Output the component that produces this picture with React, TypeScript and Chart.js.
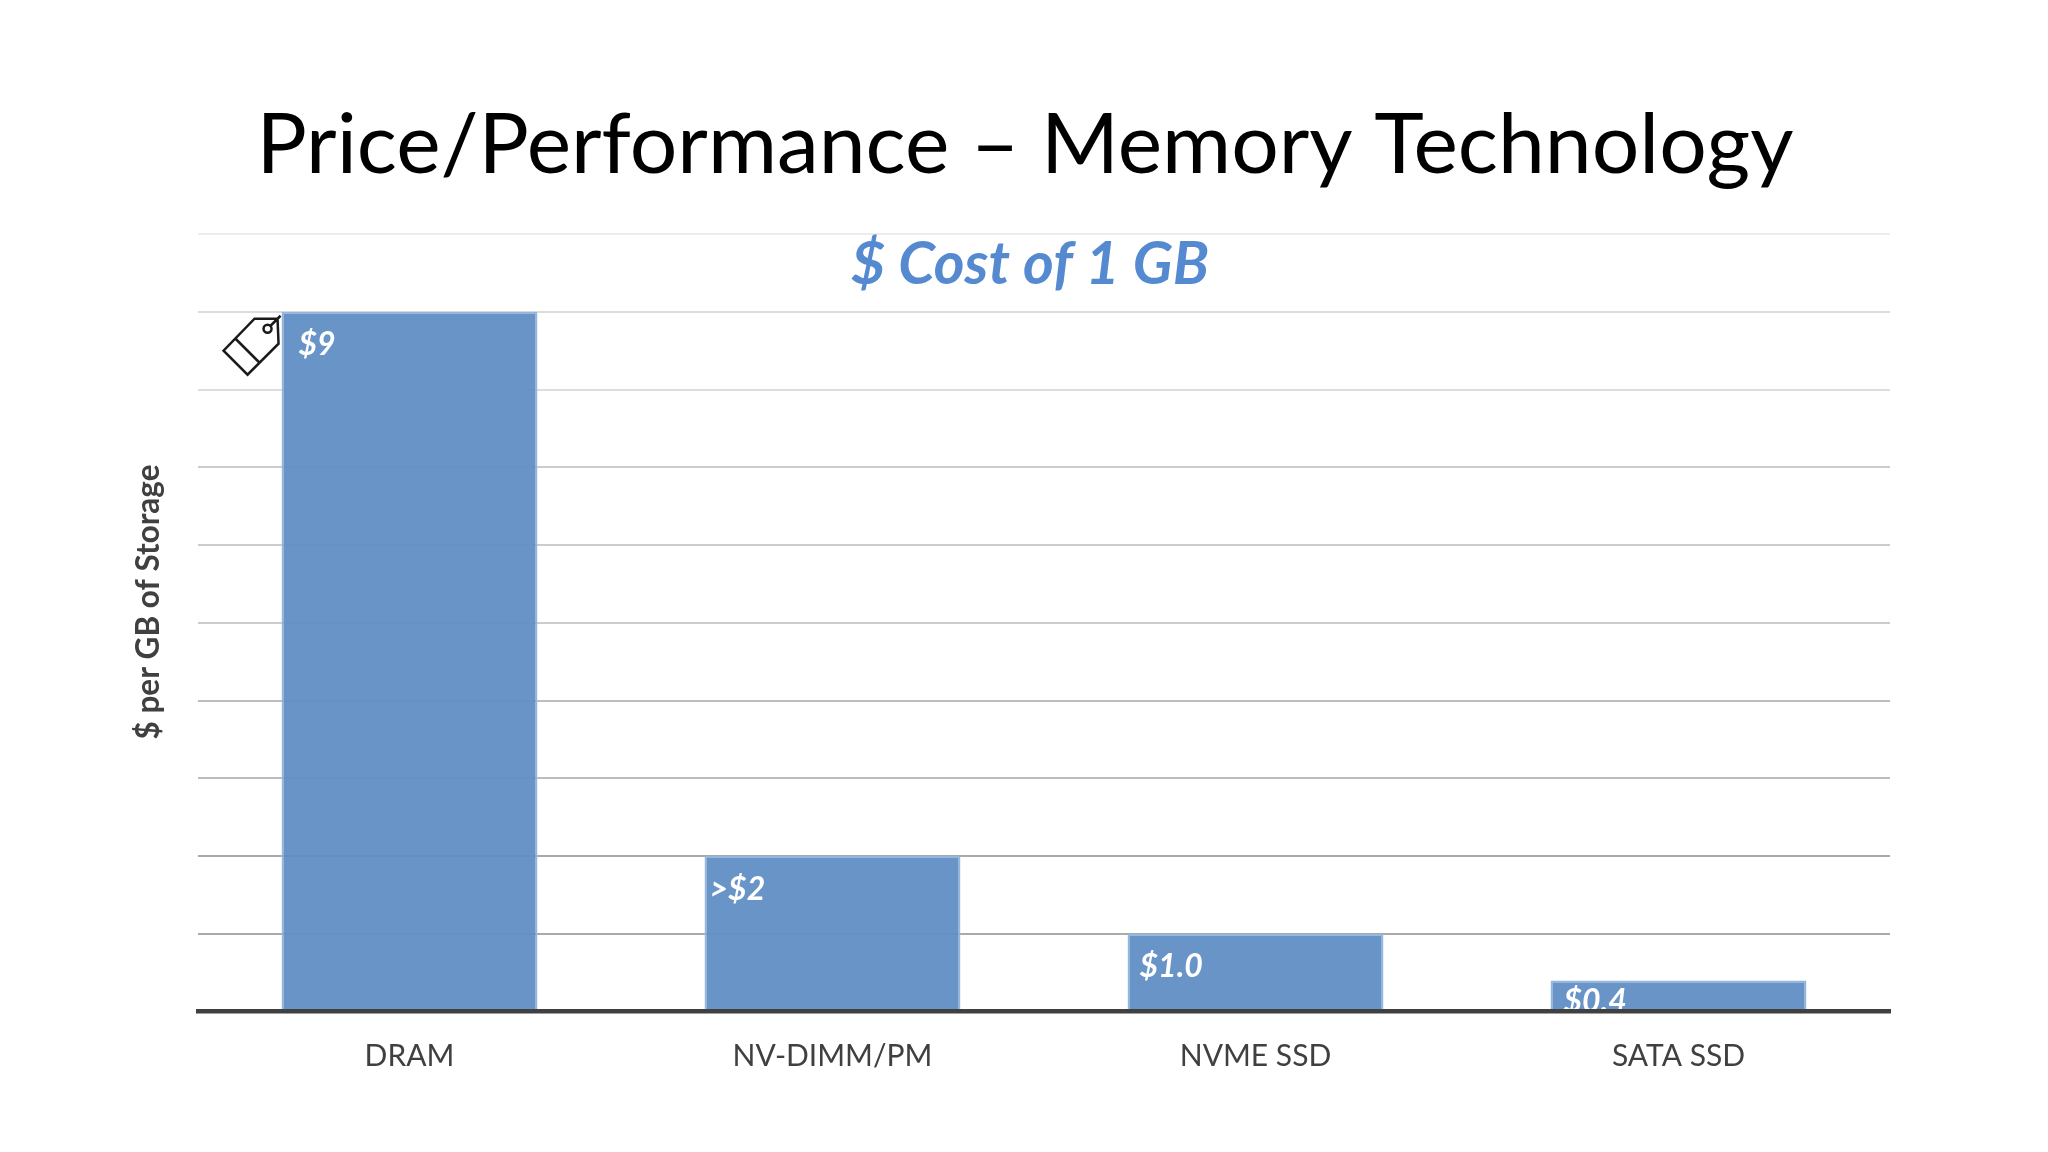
import React, { useRef, useEffect } from 'react'
import { Chart, registerables } from 'chart.js'

Chart.register(...registerables)

const categories = ['DRAM', 'NV-DIMM/PM', 'NVME SSD', 'SATA SSD']
const costPerGb = [9, 2, 1, 0.4]
const valueLabels = ['$9', '>$2', '$1.0', '$0.4']
const slideTitle = 'Price/Performance \u2013 Memory Technology'
const chartTitle = '$ Cost of 1 GB'
const yAxisTitle = '$ per GB of Storage'

const FONT = 'Lato, "Open Sans", sans-serif'

// offset of each value label from its bar's top left corner
const labelInsetX = [17, 5, 12, 13]
const labelInsetY = [33, 34, 33, 21]

const gridColor = (value: number) => {
  if (value >= 10) return '#ececec'
  if (value >= 8) return '#dddddd'
  if (value >= 5) return '#cccccc'
  if (value >= 3) return '#bdbdbd'
  return '#aaaaaa'
}

const slidePlugin = {
  id: 'slide',
  afterDatasetsDraw(chart: Chart) {
    const { ctx } = chart
    const bars = chart.getDatasetMeta(0).data as any[]

    ctx.save()
    ctx.textBaseline = 'middle'
    ctx.textAlign = 'center'
    ctx.fillStyle = '#000000'
    ctx.font = `84px ${FONT}`
    ctx.fillText(slideTitle, 1025, 146)
    ctx.fillStyle = '#568ad0'
    ctx.font = `italic bold 59px ${FONT}`
    ctx.fillText(chartTitle, 1030, 265)

    // the axis title sits above the plot's centre, so it can't use the scale title
    ctx.save()
    ctx.translate(149, 602)
    ctx.rotate(-Math.PI / 2)
    ctx.fillStyle = '#404040'
    ctx.font = `bold 31.5px ${FONT}`
    ctx.fillText(yAxisTitle, 0, 0)
    ctx.restore()

    // value labels sit inside the bars
    ctx.textAlign = 'left'
    ctx.fillStyle = '#ffffff'
    ctx.font = `italic bold 32px ${FONT}`
    bars.forEach((bar, i) => {
      const left = bar.x - bar.width / 2
      ctx.fillText(valueLabels[i], left + labelInsetX[i], bar.y + labelInsetY[i])
    })

    // price tag icon hanging off the first bar
    const x0 = bars[0].x - bars[0].width / 2
    const y0 = bars[0].y
    ctx.strokeStyle = '#1a1a1a'
    ctx.lineWidth = 2.5
    ctx.beginPath()
    ctx.moveTo(x0 - 27, y0 + 7)
    ctx.lineTo(x0 - 4, y0 + 7)
    ctx.lineTo(x0 - 3, y0 + 32)
    ctx.lineTo(x0 - 34, y0 + 63)
    ctx.lineTo(x0 - 58, y0 + 39)
    ctx.closePath()
    ctx.moveTo(x0 - 46, y0 + 27)
    ctx.lineTo(x0 - 22, y0 + 51)
    ctx.moveTo(x0 - 12, y0 + 15)
    ctx.lineTo(x0 - 1, y0 + 4)
    ctx.moveTo(x0 - 10, y0 + 17)
    ctx.arc(x0 - 14, y0 + 17, 4, 0, Math.PI * 2)
    ctx.stroke()
    ctx.restore()
  },
}

const App = () => {
  const canvasRef = useRef<HTMLCanvasElement>(null)

  useEffect(() => {
    const canvasContext = canvasRef.current?.getContext('2d')
    if (!canvasContext) return
    const chart = new Chart(canvasContext, {
      type: 'bar',
      data: {
        labels: categories,
        datasets: [{
          data: costPerGb,
          backgroundColor: 'rgba(97, 142, 197, 0.95)',
          borderColor: '#93b6dc',
          borderWidth: 2,
          barPercentage: 0.605,
          categoryPercentage: 1,
        }],
      },
      options: {
        responsive: false,
        animation: false,
        devicePixelRatio: 1,
        layout: { padding: { top: 234, right: 158 } },
        plugins: {
          legend: { display: false },
          title: { display: false },
          tooltip: { enabled: false },
        },
        scales: {
          x: {
            grid: { display: false },
            border: { display: true, color: '#404040', width: 4.6, z: 1 },
            ticks: {
              color: '#404040',
              padding: 19,
              maxRotation: 0,
              font: { family: FONT, size: 30 },
            },
            afterFit: (scale: any) => { scale.height = 140.5 },
          },
          y: {
            min: 0,
            max: 10,
            ticks: { display: false, stepSize: 1 },
            border: { display: false },
            grid: {
              drawTicks: false,
              lineWidth: 2,
              color: (c: any) => gridColor(c.tick.value),
            },
            afterFit: (scale: any) => { scale.width = 198 },
          },
        },
      },
      plugins: [slidePlugin],
    })
    return () => chart.destroy()
  }, [])

  return (
    <canvas
      ref={canvasRef}
      width="2048"
      height="1152"
      style={{ position: 'absolute', left: 0, top: 0, background: '#ffffff' }}
    />
  )
}

export default App
